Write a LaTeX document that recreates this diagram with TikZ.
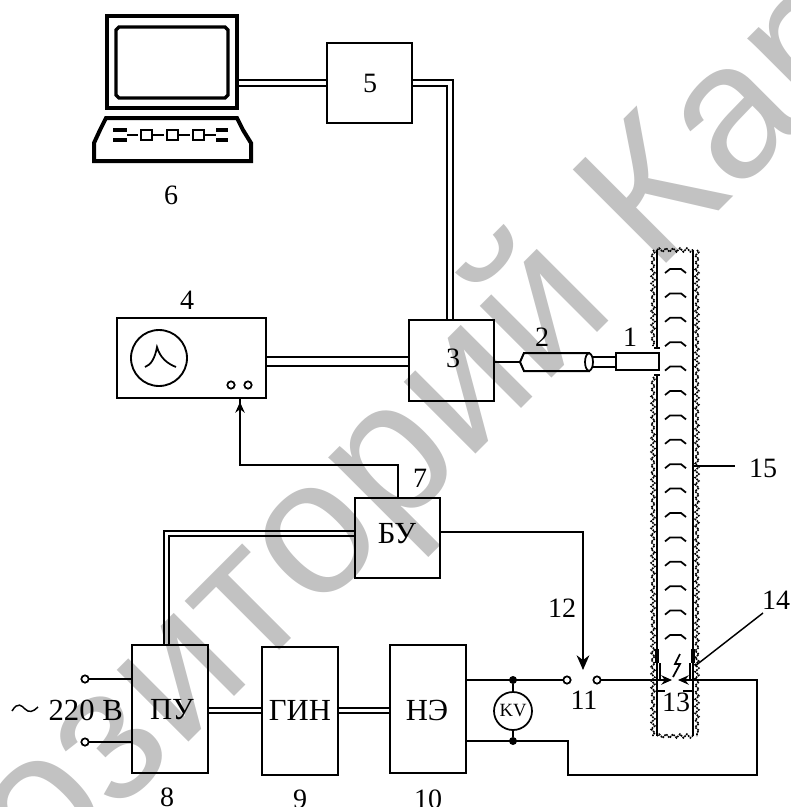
\documentclass[tikz,border=0pt]{standalone}
\usepackage{fontspec}
\setmainfont{Liberation Serif}
\newfontfamily\wmfont{Liberation Sans}
\usetikzlibrary{arrows.meta,decorations.pathmorphing,shapes.geometric}
\definecolor{wm}{gray}{0.76}
\tikzset{
  wire/.style={line width=1.5pt,line join=miter},
  boxn/.style={draw,line width=1.6pt,inner sep=0pt,outer sep=0pt},
  lab/.style={inner sep=0pt,font=\fontsize{21}{21}\selectfont},
  big/.style={inner sep=0pt,font=\fontsize{23}{23}\selectfont},
  term/.style={circle,draw,line width=1.3pt,minimum size=5.5pt,inner sep=0pt,outer sep=0pt,fill=white},
  junction/.style={circle,fill=black,minimum size=6pt,inner sep=0pt,outer sep=0pt},
  fat/.style={-{Stealth[length=8pt,width=7pt]}},
  fatter/.style={-{Stealth[length=11pt,width=9.5pt]}},
  hatch/.style={line width=1.2pt,dash pattern=on 1.3pt off 0.7pt,decorate,decoration={snake,segment length=5.2pt,amplitude=1.4pt}},
}
\begin{document}
\begin{tikzpicture}[x=0.75pt,y=-0.75pt]
\useasboundingbox (0,0) rectangle (790,807);
% watermark
\begin{scope}
\clip (0,0) rectangle (790,807);
\node[anchor=base west,rotate=45,inner sep=0pt,text=wm,font=\wmfont\fontsize{144}{144}\selectfont] (wmark) at (-191,1121) {Репозиторий Кар};
\end{scope}
% computer
\node[draw,line width=3pt,minimum width=97.5pt,minimum height=69pt,inner sep=0pt,outer sep=1.5pt] (mon) at (172,62) {};
\draw[line width=2.4pt,line join=miter] (119,27) -- (225,27) -- (228,30) -- (228,95) -- (225,98) -- (119,98) -- (116,95) -- (116,30) -- cycle;
\draw[line width=3pt] (106,118) -- (237,118) -- (243,130) -- (251,143) -- (251,161) -- (94,161) -- (94,143) -- (100,130) -- cycle;
\foreach \kx in {127,153,179,205}{
  \draw[line width=1.3pt] (\kx,135) -- ++(11,0);
}
\draw[line width=2.4pt] (113,130) -- (127,130) (113,140) -- (127,140);
\draw[line width=2.4pt] (216,130) -- (228,130) (216,140) -- (228,140);
\foreach \kx in {141,167,193}{
  \draw[line width=2pt] (\kx,130) rectangle ++(11,10);
}
% boxes
\node[boxn,minimum width=63.75pt,minimum height=60pt] (b5) at (369.5,83) {};
\node[boxn,minimum width=63.75pt,minimum height=60.75pt] (b3) at (451.5,360.5) {};
\node[boxn,minimum width=111.75pt,minimum height=60pt] (b4) at (191.5,358) {};
\node[boxn,minimum width=63.75pt,minimum height=60pt] (bBU) at (397.5,538) {};
\node[boxn,minimum width=57pt,minimum height=96pt] (bPU) at (170,709) {};
\node[boxn,minimum width=57pt,minimum height=96pt] (bGIN) at (300,711) {};
\node[boxn,minimum width=57pt,minimum height=96pt] (bNE) at (428,709) {};
% oscilloscope
\node[circle,draw,line width=1.4pt,minimum size=42pt,inner sep=0pt] (scr) at (159,358) {};
\draw[line width=1.3pt] (145,367) .. controls (151,365) and (155,358) .. (157,347) .. controls (160,358) and (168,364) .. (176,367);
\node[term] (k1) at (231,385) {};
\node[term] (k2) at (248,385) {};
% double lines
\coordinate (a1) at (0,80);
\coordinate (a2) at (0,86);
\draw[wire] (mon.east |- a1) -- (b5.west |- a1);
\draw[wire] (mon.east |- a2) -- (b5.west |- a2);
\coordinate (c1) at (453,0);
\coordinate (c2) at (447,0);
\draw[wire] (b5.east |- a1) -| (c1 |- b3.north);
\draw[wire] (b5.east |- a2) -| (c2 |- b3.north);
\coordinate (d1) at (0,357);
\coordinate (d2) at (0,366);
\draw[wire] (b4.east |- d1) -- (b3.west |- d1);
\draw[wire] (b4.east |- d2) -- (b3.west |- d2);
% control
\coordinate (e) at (240,465);
\coordinate (e2) at (240,402);
\draw[wire] (bBU.north) |- (e) -- (e |- b4.south);
\draw[wire,fat] (e) -- (e2);
\coordinate (f1) at (164,531);
\coordinate (f2) at (169,536);
\draw[wire] (bBU.west |- f1) -| (f1 |- bPU.north);
\draw[wire] (bBU.west |- f2) -| (f2 |- bPU.north);
% lower double lines
\coordinate (g1) at (0,708);
\coordinate (g2) at (0,713);
\draw[wire] (bPU.east |- g1) -- (bGIN.west |- g1);
\draw[wire] (bPU.east |- g2) -- (bGIN.west |- g2);
\draw[wire] (bGIN.east |- g1) -- (bNE.west |- g1);
\draw[wire] (bGIN.east |- g2) -- (bNE.west |- g2);
% input terminals
\node[term] (t1) at (85,679) {};
\node[term] (t2) at (85,742) {};
\draw[wire] (t1) -- (bPU.west |- t1);
\draw[wire] (t2) -- (bPU.west |- t2);
% switch
\node[term] (s1) at (567,680) {};
\node[term] (s2) at (597,680) {};
\coordinate (sw) at (583,670);
\coordinate (h) at (583,532);
\draw[wire,fatter] (bBU.east |- h) -- (h) -- (sw);
\draw[wire] (bNE.east |- s1) -- (s1);
% voltmeter
\node[circle,draw,line width=1.3pt,minimum size=28.5pt,inner sep=0pt] (kv) at (513,711) {};
\node[inner sep=0pt,font=\fontsize{14}{14}\selectfont] (kvt) at (513,711) {KV};
\node[junction] (j1) at (513,680) {};
\node[junction] (j2) at (513,741) {};
\draw[wire] (j1) -- (kv);
\draw[wire] (j2) -- (kv);
% return wire
\coordinate (r1) at (568,741);
\coordinate (r2) at (568,775);
\coordinate (r3) at (757,775);
\coordinate (r4) at (757,680);
\coordinate (tipR) at (678,680);
\coordinate (tipL) at (672,680);
\draw[wire,fat] (bNE.east |- r1) -- (r1) -- (r2) -- (r3) -- (r4) -- (tipR);
\draw[wire,fat] (s2) -- (tipL);
% probe
\node[boxn,minimum width=32pt,minimum height=13pt] (p1) at (637.5,361.5) {};
\coordinate (q1) at (593,357);
\coordinate (q2) at (593,367);
\draw[wire] (q1) -- (p1.west |- q1);
\draw[wire] (q2) -- (p1.west |- q2);
\coordinate (cabL) at (520,362);
\draw[wire] (b3.east |- cabL) -- (cabL);
\draw[wire] (cabL) -- (524,353) -- (590,353) (cabL) -- (524,371) -- (590,371);
\node[ellipse,draw,line width=1.3pt,minimum width=6pt,minimum height=13pt,inner sep=0pt] (cabR) at (589,362) {};
% tube
\coordinate (wl0) at (657,250);
\coordinate (wl1) at (657,348);
\coordinate (wl2) at (657,375);
\coordinate (wl3) at (657,736);
\coordinate (wr0) at (693,250);
\coordinate (wr3) at (693,736);
\draw[wire] (wl0) -- (wl1);
\draw[wire] (wl2) -- (wl3);
\draw[wire] (wr0) -- (wr3);
\draw[hatch] (653,250) -- (653,346);
\draw[hatch] (653,377) -- (653,736);
\draw[hatch] (697,250) -- (697,736);
\draw[hatch] (wl0) -- (wr0);
\draw[hatch] (wl3) -- (wr3);
\draw[line width=1.5pt] (654,348) -- (660,348) (654,375) -- (660,375);
\foreach \k in {0,...,15}{
  \draw[line width=1.3pt] (665,273+24.4*\k) -- (670,269+24.4*\k) -- (681,269+24.4*\k) -- (686,273+24.4*\k);
}
% electrodes
\draw[line width=3pt] (657,649) -- (657,663) (693,649) -- (693,663);
\draw[line width=1.2pt] (660,663) -- (660,680) (690,663) -- (690,680);
\draw[line width=1.3pt] (657,691) -- (665,691) (683,691) -- (693,691);
\draw[line width=1.3pt] (680,654) -- (675,664) -- (680,664) -- (673,677);
% leaders
\coordinate (l14) at (763,613);
\coordinate (l14b) at (695,666);
\draw[line width=1.1pt] (l14) -- (l14b);
\coordinate (l15) at (735,466);
\draw[wire] (wr0 |- l15) -- (l15);
% labels
\node[lab] (n1) at (630,337) {1};
\node[lab] (n2) at (542,337) {2};
\node[lab] (n3) at (453,358) {3};
\node[lab] (n4) at (187,300) {4};
\node[lab] (n5) at (370,83) {5};
\node[lab] (n6) at (171,195) {6};
\node[lab] (n7) at (420,478) {7};
\node[lab] (n8) at (167,797) {8};
\node[lab] (n9) at (300,799) {9};
\node[lab] (n10) at (428,799) {10};
\node[lab] (n11) at (584,700) {11};
\node[lab] (n12) at (562,608) {12};
\node[lab] (n13) at (676,702) {13};
\node[lab] (n14) at (776,600) {14};
\node[lab] (n15) at (763,468) {15};
\node[big] (tBU) at (397,534) {БУ};
\node[big] (tPU) at (172,710) {ПУ};
\node[big] (tGIN) at (300,710) {ГИН};
\node[big] (tNE) at (427,710) {НЭ};
\node[big,anchor=east] (t220) at (123,710) {220 В};
\draw[line width=1.1pt] (12,711) .. controls (18,701) and (22,706) .. (25,709) .. controls (29,713) and (33,712) .. (38,707);
\end{tikzpicture}
\end{document}
